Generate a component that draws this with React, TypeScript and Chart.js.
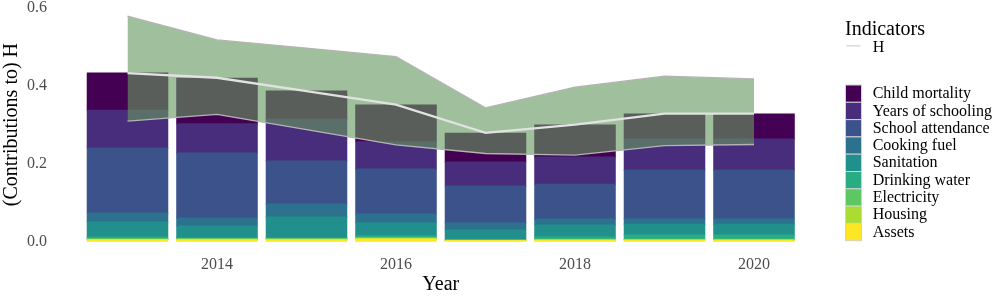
import React, { useEffect, useRef } from 'react';
import { Chart, registerables } from 'chart.js';

Chart.register(...registerables);

const FONT = '"Liberation Serif", "DejaVu Serif", "Times New Roman", serif';
Chart.defaults.font.family = FONT;

// ---- data ----
const years = ['2013', '2014', '2015', '2016', '2017', '2018', '2019', '2020'];
const tickYears = ['2014', '2016', '2018', '2020'];
const yTicks = [0, 0.2, 0.4, 0.6];

const indicators = [
  'Child mortality',
  'Years of schooling',
  'School attendance',
  'Cooking fuel',
  'Sanitation',
  'Drinking water',
  'Electricity',
  'Housing',
  'Assets',
];
const indicatorColors = [
  '#440154',
  '#472D7B',
  '#3B528B',
  '#2C728E',
  '#21908C',
  '#27AD81',
  '#5DC863',
  '#AADC32',
  '#FDE725',
];

const childMortality = [0.095, 0.117, 0.0725, 0.094, 0.074, 0.082, 0.064, 0.064];
const yearsOfSchooling = [0.097, 0.075, 0.107, 0.07, 0.061, 0.0695, 0.0793, 0.0793];
const schoolAttendance = [0.1665, 0.1663, 0.11, 0.115, 0.095, 0.0895, 0.1257, 0.1257];
const cookingFuel = [0.023, 0.0207, 0.033, 0.023, 0.018, 0.015, 0.013, 0.013];
const sanitation = [0.0385, 0.0305, 0.054, 0.033, 0.0255, 0.031, 0.028, 0.028];
const drinkingWater = [0.005, 0.002, 0.002, 0.005, 0.0005, 0.006, 0.011, 0.011];
const electricity = [0.001, 0.001, 0.001, 0.001, 0.0005, 0.001, 0.001, 0.001];
const housing = [0.001, 0.0015, 0.0015, 0.002, 0.0005, 0.001, 0.001, 0.001];
const assets = [0.005, 0.005, 0.005, 0.007, 0.003, 0.004, 0.004, 0.004];

const hIndex = [0.432, 0.42, 0.386, 0.351, 0.279, 0.3, 0.328, 0.328];
const hUpper = [0.578, 0.517, 0.496, 0.474, 0.343, 0.396, 0.424, 0.417];
const hLower = [0.309, 0.326, 0.287, 0.248, 0.226, 0.222, 0.246, 0.249];

const seriesByIndicator = [
  childMortality,
  yearsOfSchooling,
  schoolAttendance,
  cookingFuel,
  sanitation,
  drinkingWater,
  electricity,
  housing,
  assets,
];

const legendPlugin = {
  id: 'customLegend',
  afterDraw(chart: any) {
    const ctx = chart.ctx as CanvasRenderingContext2D;
    ctx.save();
    ctx.textBaseline = 'alphabetic';
    ctx.textAlign = 'left';
    ctx.fillStyle = '#000000';
    ctx.font = `20px ${FONT}`;
    ctx.fillText('Indicators', 845, 35);

    ctx.strokeStyle = '#dcdcdc';
    ctx.lineWidth = 1.6;
    ctx.beginPath();
    ctx.moveTo(846.5, 45.8);
    ctx.lineTo(860.5, 45.8);
    ctx.stroke();

    ctx.font = `16px ${FONT}`;
    ctx.fillStyle = '#000000';
    ctx.fillText('H', 872.7, 52.3);

    const top0 = 85;
    const pitch = 17.3;
    indicators.forEach((name, i) => {
      const y = top0 + i * pitch;
      ctx.fillStyle = '#d2d2d2';
      ctx.fillRect(845, y - 0.5, 17, pitch + 1);
      ctx.fillStyle = indicatorColors[i];
      ctx.fillRect(846, y + 0.5, 15, pitch - 1);
      ctx.fillStyle = '#000000';
      ctx.fillText(name, 872.7, y + 13.2);
    });
    ctx.restore();
  },
};

export default function App() {
  const canvasRef = useRef<HTMLCanvasElement | null>(null);

  useEffect(() => {
    if (!canvasRef.current) return;

    const barDatasets = indicators
      .map((name, i) => ({
        type: 'bar' as const,
        label: name,
        data: seriesByIndicator[i],
        backgroundColor: indicatorColors[i],
        borderWidth: 0,
        inflateAmount: 0.5,
        stack: 'bars',
        order: 2,
        categoryPercentage: 1,
        barPercentage: 0.9,
      }))
      .reverse(); // Assets at bottom

    const chart = new Chart(canvasRef.current, {
      type: 'bar',
      data: {
        labels: years,
        datasets: [
          ...barDatasets,
          {
            type: 'line' as const,
            label: 'upper',
            data: hUpper,
            borderColor: '#b4b4b4',
            borderWidth: 1.3,
            pointRadius: 0,
            tension: 0,
            fill: '+1',
            backgroundColor: 'rgba(102,152,95,0.62)',
            stack: 'upper',
            order: 1,
          },
          {
            type: 'line' as const,
            label: 'lower',
            data: hLower,
            borderColor: '#b4b4b4',
            borderWidth: 1.3,
            pointRadius: 0,
            tension: 0,
            fill: false,
            stack: 'lower',
            order: 0,
          },
          {
            type: 'line' as const,
            label: 'H',
            data: hIndex,
            borderColor: '#e2e2e2',
            borderWidth: 2.3,
            pointRadius: 0,
            tension: 0,
            fill: false,
            stack: 'h',
            order: 0,
          },
        ] as any,
      },
      options: {
        animation: false,
        responsive: true,
        maintainAspectRatio: false,
        layout: { padding: { left: 0, right: 201.25, top: 7.5, bottom: 0 } },
        plugins: {
          legend: { display: false },
          tooltip: { enabled: false },
        },
        scales: {
          x: {
            type: 'category',
            stacked: true,
            offset: true,
            grid: { display: false, drawTicks: false },
            border: { display: false },
            ticks: {
              color: '#4d4d4d',
              font: { size: 16, family: FONT },
              padding: 13.5,
              maxRotation: 0,
              autoSkip: false,
              callback: (_v: any, idx: number) =>
                tickYears.includes(years[idx]) ? years[idx] : '',
            },
            title: {
              display: true,
              text: 'Year',
              color: '#000000',
              font: { size: 20, family: FONT },
              padding: { top: 0, bottom: 3.5 },
            },
            afterFit: (s: any) => {
              s.height = 58.3;
              s.paddingLeft = 0;
              s.paddingRight = 0;
            },
          },
          y: {
            type: 'linear',
            stacked: true,
            min: 0,
            max: 0.6,
            grid: { display: false, drawTicks: false },
            border: { display: false },
            ticks: {
              color: '#4d4d4d',
              font: { size: 16, family: FONT },
              padding: 35.75,
              callback: (v: any) => Number(v).toFixed(1),
            },
            afterBuildTicks: (s: any) => {
              s.ticks = yTicks.map((v) => ({ value: v }));
            },
            title: {
              display: true,
              text: '(Contributions to) H',
              color: '#000000',
              font: { size: 20, family: FONT },
              padding: { top: 0, bottom: 0 },
            },
            afterFit: (s: any) => {
              s.width = 82.75;
              s.paddingTop = 0;
              s.paddingBottom = 0;
            },
          },
        },
      },
      plugins: [legendPlugin],
    });

    return () => {
      chart.destroy();
    };
  }, []);

  return (
    <div style={{ position: 'absolute', left: 0, top: 0, width: 1000, height: 300 }}>
      <canvas ref={canvasRef} />
    </div>
  );
}
